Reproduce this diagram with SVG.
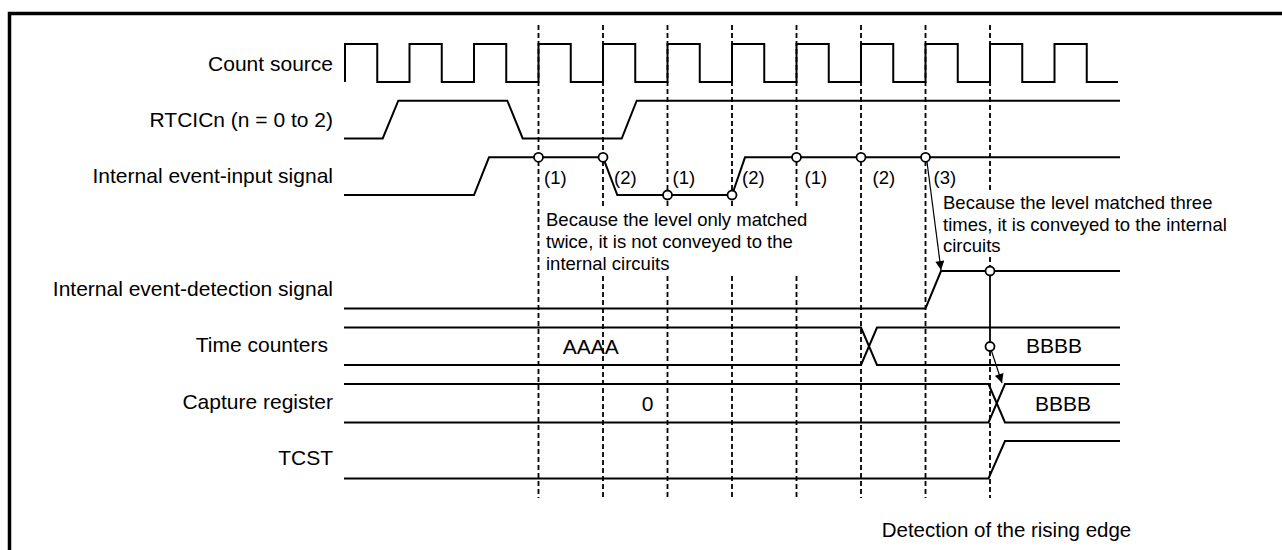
<svg xmlns="http://www.w3.org/2000/svg" width="1282" height="550" viewBox="0 0 1282 550">
<style>
.sig{fill:none;stroke:#000;stroke-width:2;stroke-linejoin:miter}
.dash{fill:none;stroke:#000;stroke-width:1.8;stroke-dasharray:5 3}
.solid{fill:none;stroke:#000;stroke-width:1.8}
.arr{fill:none;stroke:#000;stroke-width:1.2}
.pt{fill:#fff;stroke:#000;stroke-width:1.8}
.lbl{font-family:"Liberation Sans",Arial,sans-serif;font-size:21px;fill:#000}
.ann{font-family:"Liberation Sans",Arial,sans-serif;font-size:18.5px;fill:#000}
</style>
<defs>
<marker id="ah" viewBox="0 0 10 10" refX="10" refY="5" markerWidth="10" markerHeight="9" markerUnits="userSpaceOnUse" orient="auto">
<path d="M0,0 L10,5 L0,10 z" fill="#000"/>
</marker>
</defs>
<rect width="1282" height="550" fill="#fff"/>
<path d="M9.5,550 V13.5 H1282" fill="none" stroke="#000" stroke-width="3.5"/>

<g id="guides">
<path class="dash" d="M538.5,25 V498"/>
<path class="dash" d="M603,25 V209 M603,276 V498"/>
<path class="dash" d="M667.5,25 V208 M667.5,276 V498"/>
<path class="dash" d="M732,25 V208 M732,276 V498"/>
<path class="dash" d="M796.5,25 V208 M796.5,276 V498"/>
<path class="dash" d="M861,25 V498"/>
<path class="dash" d="M925.5,25 V498"/>
<path class="dash" d="M990,25 V191 M990,257 V266.5 M990,351 V498"/>
</g>

<g id="count-source">
<text class="lbl" x="333" y="70.5" text-anchor="end">Count source</text>
<path class="sig" d="M345,82 V44 H377.25 V82 H409.5 V44 H441.75 V82 H474 V44 H506.25 V82 H538.5 V44 H570.75 V82 H603 V44 H635.25 V82 H667.5 V44 H699.75 V82 H732 V44 H764.25 V82 H796.5 V44 H828.75 V82 H861 V44 H893.25 V82 H925.5 V44 H957.75 V82 H990 V44 H1022.25 V82 H1054.5 V44 H1086.75 V82 H1118"/>
</g>

<g id="rtcicn">
<text class="lbl" x="333" y="127" text-anchor="end">RTCICn (n = 0 to 2)</text>
<path class="sig" d="M344,138.5 H382.7 L398.3,100.7 H507.3 L522.7,138.5 H621.7 L636.7,100.7 H1120"/>
</g>

<g id="event-input">
<text class="lbl" x="333" y="183" text-anchor="end">Internal event-input signal</text>
<path class="sig" d="M344,195 H474 L489,157.3 H603 L617.3,195 H732 L745,157.3 H1120"/>
<circle class="pt" cx="538.5" cy="157.3" r="4.5"/>
<circle class="pt" cx="603" cy="157.3" r="4.5"/>
<circle class="pt" cx="667.5" cy="195" r="4.5"/>
<circle class="pt" cx="732" cy="195" r="4.5"/>
<circle class="pt" cx="796.5" cy="157.3" r="4.5"/>
<circle class="pt" cx="861" cy="157.3" r="4.5"/>
<circle class="pt" cx="925.5" cy="157.3" r="4.5"/>
<text class="ann" x="544" y="184">(1)</text>
<text class="ann" x="614" y="184">(2)</text>
<text class="ann" x="672.5" y="184">(1)</text>
<text class="ann" x="742" y="184">(2)</text>
<text class="ann" x="804.5" y="184">(1)</text>
<text class="ann" x="872.5" y="184">(2)</text>
<text class="ann" x="933.5" y="184">(3)</text>
</g>

<g id="note-twice">
<text class="ann" x="546" y="226">Because the level only matched</text>
<text class="ann" x="546" y="248">twice, it is not conveyed to the</text>
<text class="ann" x="546" y="270">internal circuits</text>
</g>

<g id="note-three">
<text class="ann" x="943" y="209">Because the level matched three</text>
<text class="ann" x="943" y="230.5">times, it is conveyed to the internal</text>
<text class="ann" x="943" y="252">circuits</text>
</g>

<g id="event-detection">
<text class="lbl" x="333" y="296" text-anchor="end">Internal event-detection signal</text>
<path class="sig" d="M344,308.5 H925.5 L941,271 H1120"/>
<circle class="pt" cx="990" cy="271" r="4.5"/>
</g>

<g id="time-counters">
<text class="lbl" x="328" y="352" text-anchor="end">Time counters</text>
<path class="sig" d="M344,327.5 H861 L877,365 H1120"/>
<path class="sig" d="M344,365 H861 L877,327.5 H1120"/>
<text class="lbl" x="562.7" y="354">AAAA</text>
<text class="lbl" x="1026" y="353">BBBB</text>
<circle class="pt" cx="990" cy="346.5" r="4.5"/>
</g>

<g id="capture-register">
<text class="lbl" x="333" y="409" text-anchor="end">Capture register</text>
<path class="sig" d="M344,384 H988.5 L1005,422.5 H1120"/>
<path class="sig" d="M344,422.5 H988.5 L1005,384 H1120"/>
<text class="lbl" x="641.7" y="411">0</text>
<text class="lbl" x="1035" y="411">BBBB</text>
</g>

<g id="tcst">
<text class="lbl" x="333" y="465" text-anchor="end">TCST</text>
<path class="sig" d="M344,478.5 H988.5 L1005,441 H1120"/>
</g>

<g id="connectors">
<path class="arr" d="M927,162 L941,270" marker-end="url(#ah)"/>
<path class="solid" d="M990,275.5 V342"/>
<path class="arr" d="M991.5,351 L1002,383" marker-end="url(#ah)"/>
</g>

<text class="lbl" x="881.7" y="537" style="font-size:20.5px">Detection of the rising edge</text>
</svg>
